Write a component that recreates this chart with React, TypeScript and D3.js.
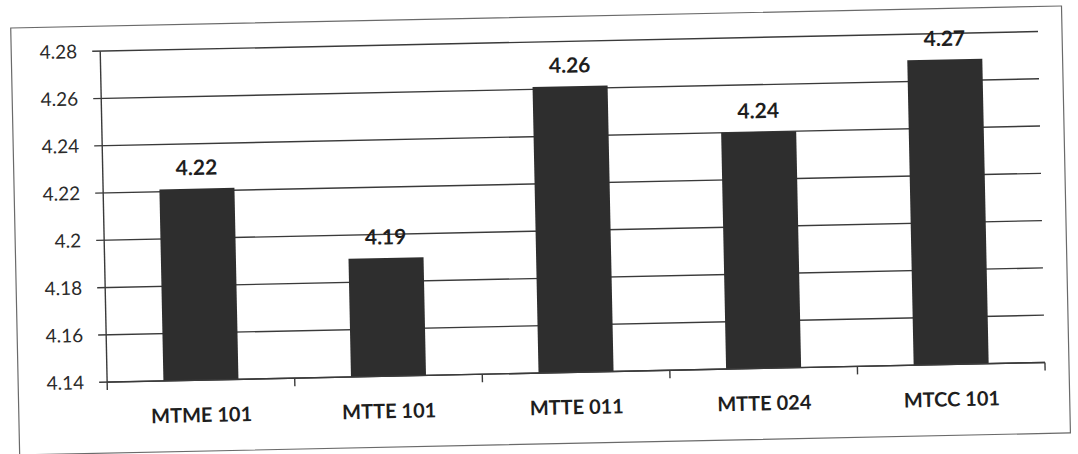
import React from "react";
import * as d3 from "d3";

const categories = ["MTME 101", "MTTE 101", "MTTE 011", "MTTE 024", "MTCC 101"];
const values = [4.221, 4.19, 4.261, 4.24, 4.269];
const valueLabels = ["4.22", "4.19", "4.26", "4.24", "4.27"];
const yTicks = [4.14, 4.16, 4.18, 4.2, 4.22, 4.24, 4.26, 4.28];
const yTickLabels = ["4.14", "4.16", "4.18", "4.2", "4.22", "4.24", "4.26", "4.28"];

const W = 1078;
const H = 454;
const M = { left: 104, right: 1042, top: 42, bottom: 373 };
const FONT = "Lato, 'Open Sans', sans-serif";

export default function App() {
  const x = d3.scaleBand<string>().domain(categories).range([M.left, M.right]).paddingInner(0.6).paddingOuter(0.3);
  const y = d3.scaleLinear().domain([4.14, 4.28]).range([M.bottom, M.top]);
  const band = (M.right - M.left) / categories.length;
  const ink = "#2e2e2e";

  return (
    <svg width={W} height={H} style={{ position: "absolute", left: 0, top: 0, background: "#fff" }}>
      <rect x={0} y={0} width={W} height={H} fill="#fff" />
      <g transform={`rotate(-1.2, ${W / 2}, ${H / 2})`}>
        <rect x={15} y={17} width={1051} height={427} fill="none" stroke="#6a6a6a" strokeWidth={1.2} />
        {yTicks.map((t, i) => (
          <g key={i}>
            <line x1={M.left - 8} x2={M.right} y1={y(t)} y2={y(t)} stroke="#3a3a3a" strokeWidth={1.4} />
            <text x={81} y={y(t)} dy="0.35em" textAnchor="end" fontFamily={FONT} fontSize={19} fill="#2a2a2a">
              {yTickLabels[i]}
            </text>
          </g>
        ))}
        <line x1={M.left} x2={M.left} y1={M.top} y2={M.bottom + 8} stroke="#3a3a3a" strokeWidth={1.4} />
        {categories.map((c, i) => (
          <line key={"t" + i} x1={M.left + band * (i + 1)} x2={M.left + band * (i + 1)} y1={M.bottom} y2={M.bottom + 8} stroke="#3a3a3a" strokeWidth={1.4} />
        ))}
        {categories.map((c, i) => (
          <g key={c}>
            <rect x={x(c)} y={y(values[i])} width={x.bandwidth()} height={y(4.14) - y(values[i])} fill={ink} />
            <text x={(x(c) as number) + x.bandwidth() / 2} y={y(values[i]) - 21} dy="0.35em" textAnchor="middle" fontFamily={FONT} fontWeight="bold" fontSize={21} fill="#1e1e1e">
              {valueLabels[i]}
            </text>
            <text x={(x(c) as number) + x.bandwidth() / 2} y={408} dy="0.35em" textAnchor="middle" fontFamily={FONT} fontWeight="bold" fontSize={20} fill="#1e1e1e">
              {c}
            </text>
          </g>
        ))}
        <line x1={M.left} x2={M.right} y1={M.bottom} y2={M.bottom} stroke="#3a3a3a" strokeWidth={1.4} />
      </g>
    </svg>
  );
}
